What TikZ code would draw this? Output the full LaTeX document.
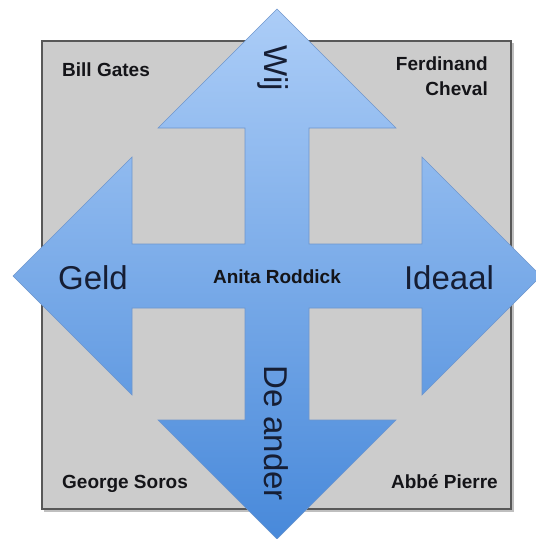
\documentclass[tikz,border=0pt]{standalone}
\usepackage{fontspec}
\setmainfont{Liberation Sans}
\definecolor{panelgray}{RGB}{204,204,204}
\definecolor{paneledge}{RGB}{88,88,88}
\definecolor{arrowtop}{RGB}{172,205,247}
\definecolor{arrowbottom}{RGB}{72,137,218}
\definecolor{arrowedge}{RGB}{110,150,205}
\definecolor{namecol}{RGB}{20,20,24}
\definecolor{axiscol}{RGB}{22,30,52}
\begin{document}
\begin{tikzpicture}[x=1pt,y=-1pt,
  person/.style={font=\bfseries\fontsize{19}{25}\selectfont, text=namecol, inner sep=0pt},
  axisword/.style={font=\fontsize{33}{36}\selectfont, text=axiscol, inner sep=0pt},
  panel/.style={fill=panelgray, draw=paneledge, line width=1.1pt},
  crossarrow/.style={top color=arrowtop, bottom color=arrowbottom, draw=arrowedge, line width=0.6pt, line join=miter}]
\useasboundingbox (0,0) rectangle (536,539);
\clip (0,0) rectangle (536,539);

% background panel with a faint drop shadow
\fill[black, opacity=0.25] (44,43) rectangle (513.5,511.5);
\draw[panel] (42,41) rectangle (511,509);

% four-way arrow
\shadedraw[crossarrow]
  (277,9) -- (396,128) -- (309,128) -- (309,244) -- (422,244) -- (422,157)
  -- (541,276) -- (422,395) -- (422,308) -- (309,308) -- (309,420) -- (396,420)
  -- (277,539) -- (158,420) -- (245,420) -- (245,308) -- (132,308) -- (132,395)
  -- (13,276) -- (132,157) -- (132,244) -- (245,244) -- (245,128) -- (158,128) -- cycle;

% corner names
\node[person, anchor=base west] (gates) at (62,76) {Bill Gates};
\node[person, anchor=north east, align=right] (cheval) at (488,57) {Ferdinand\\Cheval};
\node[person, anchor=base west] (soros) at (62,488) {George Soros};
\node[person, anchor=base east] (pierre) at (498,488) {Abbé Pierre};
\node[person, anchor=base] (roddick) at (277,283) {Anita Roddick};

% arrow labels
\node[axisword, anchor=base] (geld) at (93,289) {Geld};
\node[axisword, anchor=base] (ideaal) at (449,289) {Ideaal};
\node[axisword, rotate=-90, anchor=base west] (wij) at (264,45) {Wij};
\node[axisword, rotate=-90, anchor=base west] (ander) at (264,365) {De ander};
\end{tikzpicture}
\end{document}
